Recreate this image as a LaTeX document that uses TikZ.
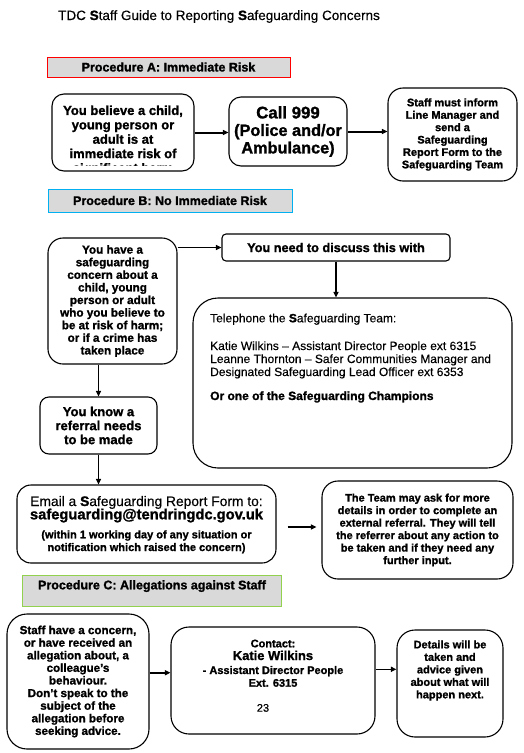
\documentclass[tikz,border=0pt]{standalone}
\usepackage{fontspec}
\setmainfont{Liberation Sans}[FakeBold=0.3,BoldFeatures={FakeBold=1.3}]
\usetikzlibrary{arrows.meta}
\definecolor{hdrgray}{HTML}{D9D9D9}
\definecolor{hdrred}{HTML}{FF0000}
\definecolor{hdrblue}{HTML}{00B0F0}
\definecolor{hdrgreen}{HTML}{92D050}
\newcommand{\fsz}[2]{\fontsize{#1}{#2}\selectfont}
\newcommand{\bS}{\textbf{S}}
\begin{document}
\begin{tikzpicture}[x=1pt,y=-1pt,
  rbox/.style={draw=black, line width=1.1pt, rounded corners=#1, inner sep=0pt, align=center},
  hdr/.style={draw=#1, line width=1pt, fill=hdrgray, inner sep=0pt, font=\bfseries\fsz{12.5}{14}},
  txt/.style={inner sep=0pt, align=center},
  flow/.style={-{Triangle[length=5.5pt,width=5pt]}, line width=1.6pt},
  flowA/.style={flow, line width=2pt},
]
\useasboundingbox (0,0) rectangle (523,753);
\fill[white] (0,0) rectangle (523,753);

% title
\node[txt, anchor=base west, font=\fsz{13.5}{15}] (title) at (58,20) {TDC \bS taff Guide to Reporting \bS afeguarding Concerns};

% Procedure A
\node[hdr=hdrred, minimum width=243pt, minimum height=20pt] (hdra) at (168.5,67) {Procedure A: Immediate Risk};

\node[rbox=12pt, minimum width=142pt, minimum height=77pt] (a1) at (123,132.5) {};
\begin{scope}
\clip (52,94) rectangle (194,165.3);
\node[txt, font=\bfseries\fsz{13}{14.4}] (a1t) at (123,140.4) {You believe a child,\\young person or\\adult is at\\immediate risk of\\significant harm};
\end{scope}

\node[rbox=12pt, minimum width=118pt, minimum height=69pt, font=\bfseries\fsz{16.3}{17.5}] (a2) at (288,131.5) {{\fsz{16.8}{17.5}Call 999}\\(Police and/or\\Ambulance)};

\node[rbox=15pt, minimum width=129pt, minimum height=93pt, font=\bfseries\fsz{11}{12.4}] (a3) at (452.5,134.5) {Staff must inform\\Line Manager and\\send a\\Safeguarding\\Report Form to the\\Safeguarding Team};

\draw[flowA] (a1.east) -- (a1.east -| a2.west);
\draw[flowA] (a2.east) -- (a2.east -| a3.west);

% Procedure B
\node[hdr=hdrblue, minimum width=244pt, minimum height=23pt] (hdrb) at (170,200.5) {Procedure B: No Immediate Risk};

\node[rbox=15pt, minimum width=129pt, minimum height=126pt, font=\bfseries\fsz{11.7}{12.6}] (b1) at (112.5,301) {You have a\\safeguarding\\concern about a\\child, young\\person or adult\\who you believe to\\be at risk of harm;\\or if a crime has\\taken place};

\node[rbox=4pt, minimum width=228pt, minimum height=27pt, font=\bfseries\fsz{12.7}{14}] (disc) at (336,247.5) {You need to discuss this with};

\node[rbox=25pt, minimum width=319pt, minimum height=170pt] (tel) at (352.5,383) {};
\node[txt, anchor=base west, font=\fsz{12}{13.3}] (t1) at (210,322.3) {Telephone the \bS afeguarding Team:};
\node[txt, anchor=base west, font=\fsz{12}{13.3}] (t2) at (210,350) {Katie Wilkins – Assistant Director People ext 6315};
\node[txt, anchor=base west, font=\fsz{12}{13.3}] (t3) at (210,363) {Leanne Thornton – Safer Communities Manager and};
\node[txt, anchor=base west, font=\fsz{12}{13.3}] (t4) at (210,376) {Designated Safeguarding Lead Officer ext 6353};
\node[txt, anchor=base west, font=\bfseries\fsz{12}{13.3}] (t5) at (210,400) {Or one of the Safeguarding Champions};

\node[rbox=9pt, minimum width=117pt, minimum height=57pt, font=\bfseries\fsz{13}{14}] (knows) at (98.5,425.5) {You know a\\referral needs\\to be made};

\node[rbox=14pt, minimum width=259pt, minimum height=78pt] (email) at (146.5,524) {};
\node[txt, anchor=base, font=\fsz{13.8}{15}] (e1) at (146.5,506) {Email a \bS afeguarding Report Form to:};
\node[txt, anchor=base, font=\bfseries\fsz{14.7}{16}] (e2) at (146.5,519.3) {safeguarding@tendringdc.gov.uk};
\node[txt, anchor=base, font=\bfseries\fsz{11}{12.5}] (e3) at (146.5,538.3) {(within 1 working day of any situation or};
\node[txt, anchor=base, font=\bfseries\fsz{11}{12.5}] (e4) at (146.5,551) {notification which raised the concern)};

\node[rbox=16pt, minimum width=191pt, minimum height=98pt, font=\bfseries\fsz{11}{12.5}] (team) at (417.5,530) {The Team may ask for more\\details in order to complete an\\external referral. They will tell\\the referrer about any action to\\be taken and if they need any\\further input.};

\draw[flow] (b1.east |- disc.west) -- (disc.west);
\draw[flow] (disc.south) -- (disc.south |- tel.north);
\draw[flow] (knows.north |- b1.south) -- (knows.north);
\draw[flow] (knows.south) -- (knows.south |- email.north);
\coordinate (et) at (0,527);
\draw[flow, shorten <=11pt, shorten >=5pt] (email.east |- et) -- (team.west |- et);

% Procedure C
\node[hdr=hdrgreen, minimum width=259pt, minimum height=31pt] (hdrc) at (151.5,590.5) {};
\node[txt, anchor=base, font=\bfseries\fsz{12.5}{14}] (hdrct) at (152,589.3) {Procedure C: Allegations against Staff};

\node[rbox=20pt, minimum width=142pt, minimum height=135pt, font=\bfseries\fsz{11.6}{12.6}] (c1) at (78,681.5) {Staff have a concern,\\or have received an\\allegation about, a\\colleague’s\\behaviour.\\Don’t speak to the\\subject of the\\allegation before\\seeking advice.};

\node[rbox=18pt, minimum width=204pt, minimum height=107pt] (c2) at (273,680.5) {};
\node[txt, anchor=base, font=\bfseries\fsz{11}{12.5}] (k1) at (273,647.3) {Contact:};
\node[txt, anchor=base, font=\bfseries\fsz{12.9}{14}] (k2) at (273,660) {Katie Wilkins};
\node[txt, anchor=base, font=\bfseries\fsz{11}{12.5}] (k3) at (273,674) {- Assistant Director People};
\node[txt, anchor=base, font=\bfseries\fsz{11}{12.5}] (k4) at (273,686.7) {Ext. 6315};
\node[txt, anchor=base, font=\fsz{11}{12.5}] (k5) at (263,711.7) {23};

\node[rbox=18pt, minimum width=106pt, minimum height=107pt] (c3) at (450,683.5) {};
\node[txt, font=\bfseries\fsz{11}{12.5}] (c3t) at (450,670.5) {Details will be\\taken and\\advice given\\about what will\\happen next.};

\coordinate (c12) at (0,672.7);
\coordinate (c23) at (0,669.3);
\draw[flow] (c1.east |- c12) -- (c2.west |- c12);
\draw[flow] (c2.east |- c23) -- (c3.west |- c23);
\end{tikzpicture}
\end{document}
